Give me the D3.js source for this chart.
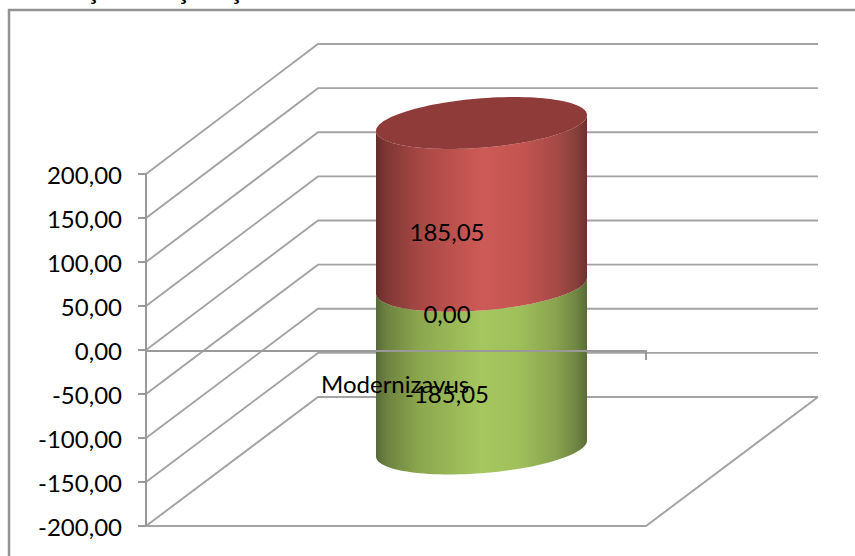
<!DOCTYPE html>
<html>
<head>
<meta charset="utf-8">
<script src="https://cdn.jsdelivr.net/npm/d3@7"></script>
<style>
  html, body { margin: 0; padding: 0; background: #fff; }
  svg { display: block; }
  text { font-family: Lato, "Open Sans", sans-serif; fill: #000; }
</style>
</head>
<body>
<div id="chart"></div>
<script>
const categories = ["Modernizavus"];
const ticks = [200, 150, 100, 50, 0, -50, -100, -150, -200];
const seriesPos = [185.05];
const seriesZero = [0];
const seriesNeg = [-185.05];
const fmt = (v) => v.toFixed(2).replace(".", ",");

const W = 855, H = 556;
const svg = d3.select("#chart").append("svg").attr("width", W).attr("height", H);
const defs = svg.append("defs");

// front wall and back wall of the 3d box
const yFront = d3.scaleLinear().domain([-200, 200]).range([526, 174]);
const yBack = d3.scaleLinear().domain([-200, 200]).range([397, 44]);
const x0 = 146, x1 = 646, bx0 = 318, bx1 = 818;
const GRID = "#a3a3a3";

// the cylinder sits half way into the box
const yCyl = d3.scaleLinear().domain([-185.05, 185.05]).range([448.5, 123]);
const cx = 481.5, rx = 105.5, tilt = 8, ry = 24.7;

function gradient(id, stops) {
  const g = defs.append("linearGradient").attr("id", id).attr("x1", 0).attr("x2", 1).attr("y1", 0).attr("y2", 0);
  stops.forEach((s) => g.append("stop").attr("offset", s[0]).attr("stop-color", s[1]));
}
gradient("red", [[0, "#672d2b"], [0.05, "#7f3735"], [0.2, "#a64744"], [0.5, "#cd5a56"], [0.68, "#c45551"], [0.85, "#a84a47"], [0.95, "#86403c"], [1, "#6e302e"]]);
gradient("green", [[0, "#58693a"], [0.05, "#6d8240"], [0.2, "#8ba64e"], [0.5, "#a6c75f"], [0.68, "#9fbf5b"], [0.85, "#89a34e"], [0.95, "#6f8642"], [1, "#5a6b36"]]);

// cedillas of the cropped title above the frame
const gTitle = svg.append("g");
gTitle.selectAll("text").data([93, 183, 236]).join("text")
  .attr("x", (d) => d).attr("y", -1).attr("text-anchor", "middle")
  .style("font-family", "Liberation Serif").style("font-weight", "bold").style("font-size", "24px")
  .text("ç");

// frame
svg.append("path").attr("d", `M9,${H} V10 H${W}`).attr("fill", "none").attr("stroke", "#929292").attr("stroke-width", 2.5);

// grid
const gGrid = svg.append("g").attr("fill", "none").attr("stroke", GRID).attr("stroke-width", 1.9);
gGrid.selectAll("path").data(ticks).join("path")
  .attr("d", (t) => `M${x0},${yFront(t)} L${bx0},${yBack(t)} H${bx1}`);
gGrid.append("path").attr("d", `M${x0},${yFront(-200)} H${x1} L${bx1},${yBack(-200)}`);

// cylinder
function ellipsePt(cy, t) {
  return [cx + rx * Math.cos(t), cy - tilt * Math.cos(t) + ry * Math.sin(t)];
}
function frontArc(cy, reverse) {
  const ts = d3.range(0, 61).map((i) => (i / 60) * Math.PI);
  if (reverse) ts.reverse();
  return ts.map((t) => ellipsePt(cy, t));
}
const line = d3.line();
const gCyl = svg.append("g");
function body(v0, v1, fill) {
  const pts = frontArc(yCyl(v0), true).concat(frontArc(yCyl(v1), false));
  gCyl.append("path").attr("d", line(pts) + "Z").attr("fill", `url(#${fill})`);
}
body(seriesZero[0], seriesNeg[0], "green");
// red front goes over the green top rim
body(seriesPos[0], seriesZero[0], "red");
const topPts = d3.range(0, 121).map((i) => ellipsePt(yCyl(seriesPos[0]), (i / 120) * 2 * Math.PI));
gCyl.append("path").attr("d", line(topPts) + "Z").attr("fill", "#8f3b39");

// front axis
const gAxis = svg.append("g").attr("fill", "none").attr("stroke", "#999999").attr("stroke-width", 2);
gAxis.append("path").attr("d", `M${x0},${yFront(200)} V${yFront(-200)}`);
gAxis.selectAll(".tick").data(ticks).join("path").attr("class", "tick")
  .attr("d", (t) => `M${x0 - 8},${yFront(t)} H${x0}`);
gAxis.append("path").attr("d", `M${x0},${yFront(0) + 1} H${x1} M${x1},${yFront(0)} V${yFront(0) + 10}`);

// labels
svg.append("g").selectAll("text").data(ticks).join("text")
  .attr("x", 122).attr("y", (t) => yFront(t) + 10).attr("text-anchor", "end")
  .style("font-size", "24px").text(fmt);
svg.append("text").attr("x", 321).attr("y", 393).style("font-size", "24px").text(categories[0]);
const labels = [
  { v: seriesPos[0], x: 447, y: 241 },
  { v: seriesZero[0], x: 447, y: 323 },
  { v: seriesNeg[0], x: 447, y: 403 }
];
svg.append("g").selectAll("text").data(labels).join("text")
  .attr("x", (d) => d.x).attr("y", (d) => d.y).attr("text-anchor", "middle")
  .style("font-size", "24px").text((d) => fmt(d.v));
</script>
</body>
</html>
